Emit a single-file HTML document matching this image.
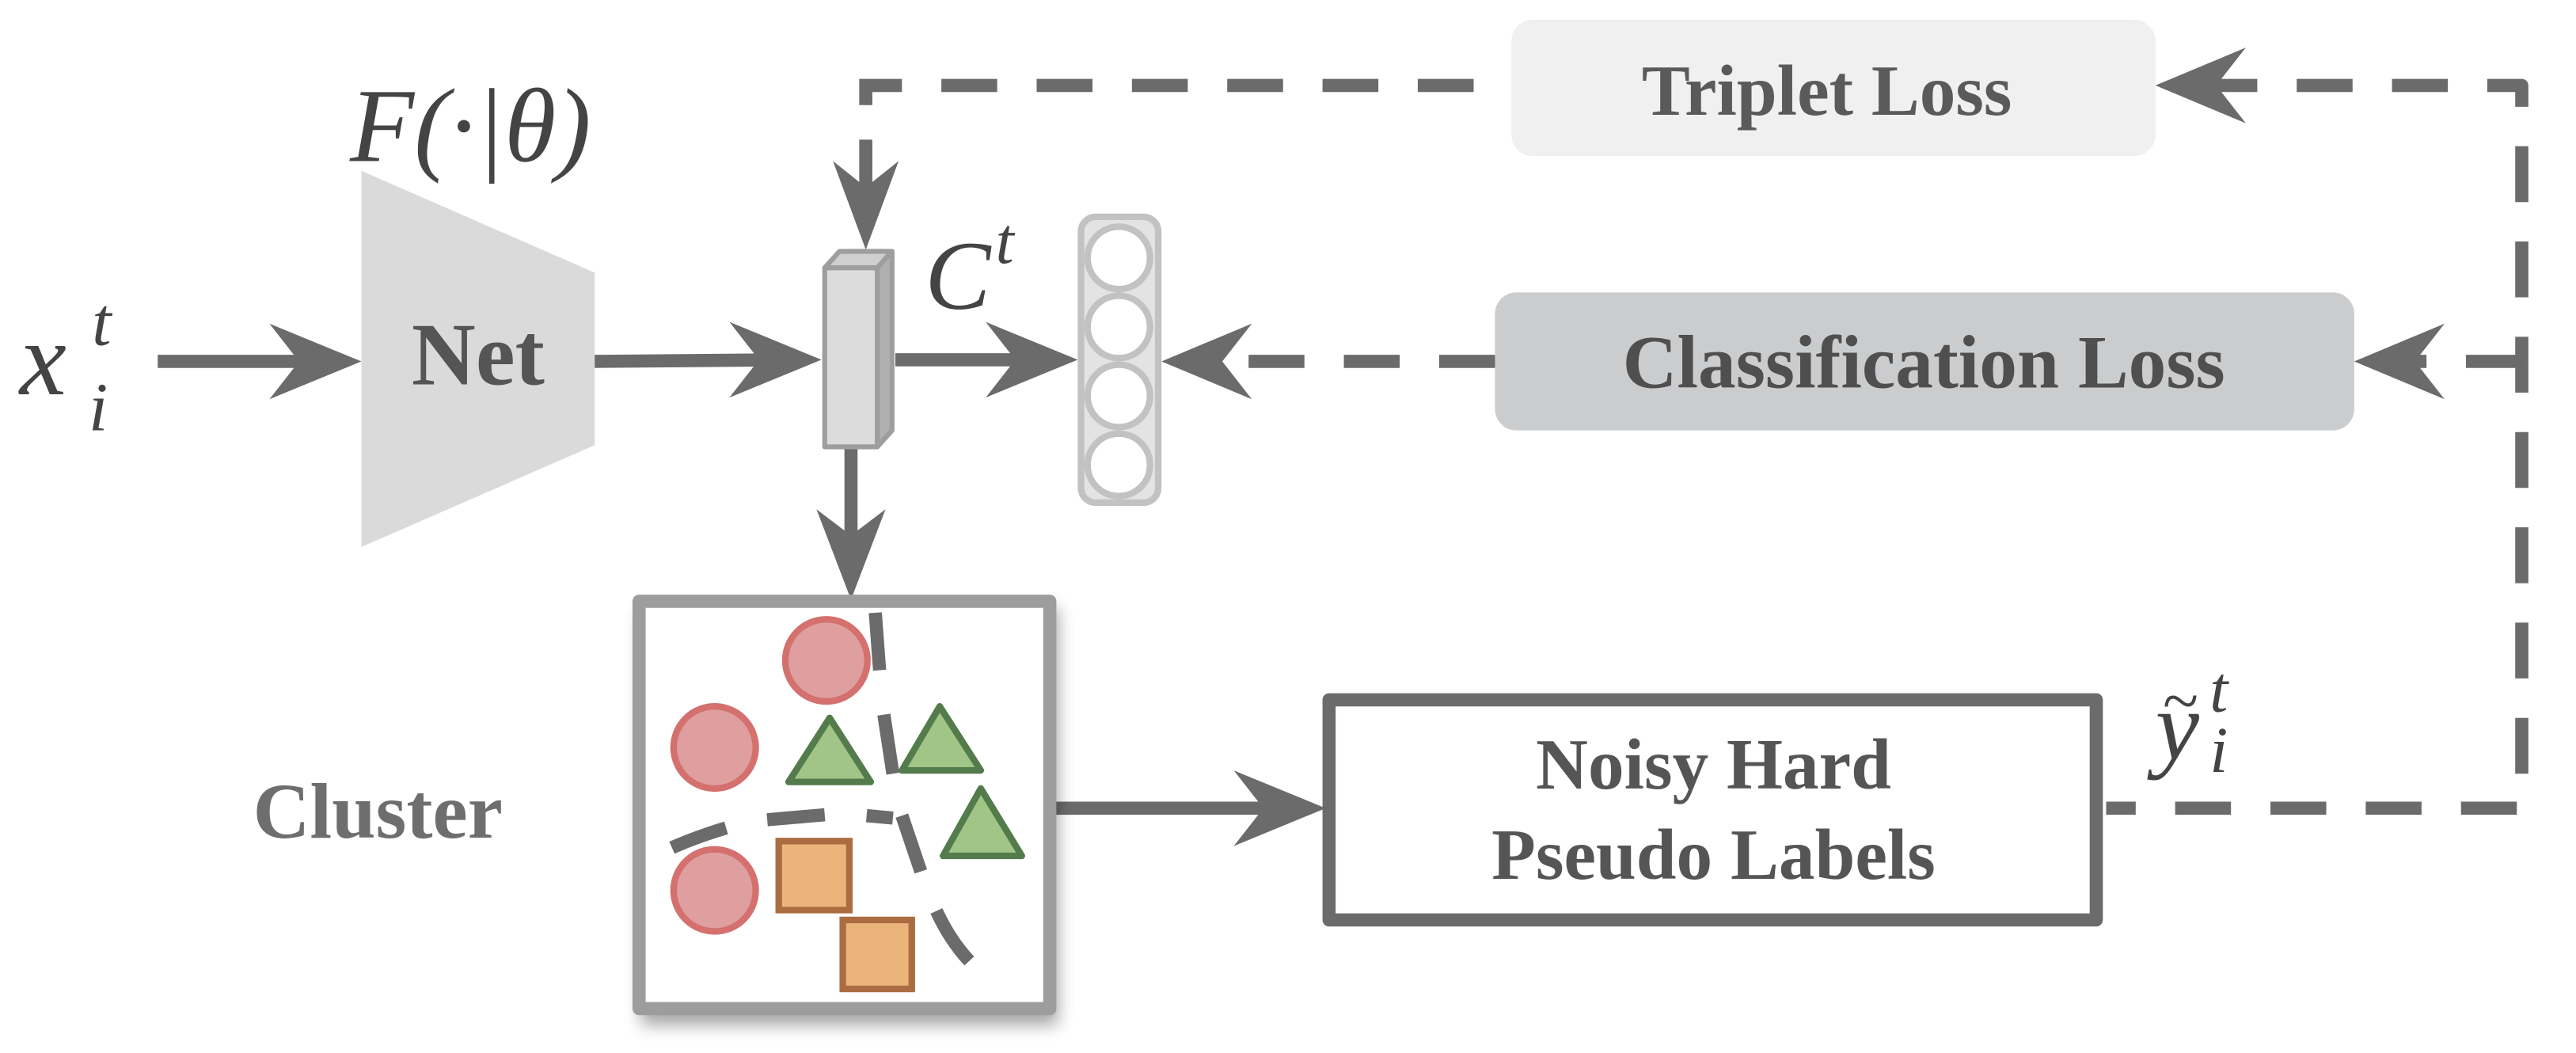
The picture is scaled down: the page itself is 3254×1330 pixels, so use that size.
<!DOCTYPE html>
<html><head><meta charset="utf-8"><style>
html,body{margin:0;padding:0;background:#fff;}
svg{display:block;}
</style></head><body>
<svg width="3254" height="1330" viewBox="0 0 1568 641" preserveAspectRatio="none" xmlns="http://www.w3.org/2000/svg">
<defs>
<filter id="sh" x="-20%" y="-20%" width="140%" height="140%"><feGaussianBlur stdDeviation="5"/></filter>
</defs>
<g font-family="'Liberation Serif', 'DejaVu Serif', serif" font-style="italic" fill="#444">
<text x="12" y="240" font-size="64">x</text>
<text x="56" y="210" font-size="42">t</text>
<text x="54" y="262" font-size="42">i</text>
<text x="213" y="98" font-size="64">F(·|θ)</text>
<text x="563" y="188" font-size="60">C</text>
<text x="606" y="160" font-size="40">t</text>
<text x="1312" y="462" font-size="60">y</text>
<text x="1316" y="440" font-size="40">~</text>
<text x="1345" y="433" font-size="40">t</text>
<text x="1345" y="470" font-size="40">i</text>
</g>
<polygon points="220,104 362,166 362,271 220,333" fill="#dadada"/>

<g stroke="#6b6b6b" stroke-width="8" fill="none">
<line x1="96" y1="220" x2="200" y2="220"/>
<line x1="362" y1="220" x2="480" y2="219"/>
<line x1="545" y1="219" x2="640" y2="219"/>
<line x1="518" y1="273" x2="518" y2="345"/>
<line x1="527" y1="85" x2="527" y2="135"/>
<line x1="640" y1="492" x2="790" y2="492"/>
<path d="M527 64 L527 52 L920 52" stroke-dasharray="34 24"/>
<path d="M1340 52 L1535 52 L1535 492 L1282 492" stroke-dasharray="34 24" stroke-linejoin="round"/>
<path d="M910 220 L745 220" stroke-dasharray="34 24"/>
<path d="M1535 220 L1450 220" stroke-dasharray="34 24"/>
</g>
<g fill="#6b6b6b">
<polygon points="220,220 164,197 182,220 164,243"/>
<polygon points="500,219 444,196 462,219 444,242"/>
<polygon points="656,219 600,196 618,219 600,242"/>
<polygon points="518,365 497,310 518,326 539,310"/>
<polygon points="527,152 507,98 527,114 547,98"/>
<polygon points="807,492 751,469 769,492 751,515"/>
<polygon points="707,220 762,197 744,220 762,243"/>
<polygon points="1433,220 1488,197 1470,220 1488,243"/>
<polygon points="1312,52 1367,29 1349,52 1367,75"/>
</g>
<g stroke="#9e9e9e" stroke-width="3" stroke-linejoin="round">
<polygon points="502,163 511,153 543,153 534,163" fill="#cfcfcf"/>
<polygon points="534,163 543,153 543,262 534,272" fill="#b0b0b0"/>
<rect x="502" y="163" width="32" height="109" fill="#dcdcdc"/>
</g>
<rect x="658" y="132" width="47" height="174" rx="9" fill="#e3e3e3" stroke="#c2c2c2" stroke-width="4"/>
<g fill="#fff" stroke="#c2c2c2" stroke-width="4">
<circle cx="681" cy="157" r="19"/>
<circle cx="681" cy="199" r="19"/>
<circle cx="681" cy="241" r="19"/>
<circle cx="681" cy="283" r="19"/>
</g>
<rect x="920" y="12" width="392" height="83" rx="13" fill="#f0f0f0"/>
<rect x="910" y="178" width="523" height="84" rx="13" fill="#cbcccd"/>
<rect x="390" y="370" width="254" height="254" fill="#000" opacity="0.35" filter="url(#sh)"/>
<rect x="389" y="366" width="250" height="248" fill="#fff" stroke="#9d9d9d" stroke-width="8" stroke-linejoin="round"/>
<g fill="none" stroke="#6b6b6b" stroke-width="8">
<line x1="532.8" y1="373" x2="535.4" y2="408"/>
<line x1="538" y1="435" x2="543.5" y2="471"/>
<path d="M409 516 Q425 509 442 504"/>
<line x1="467" y1="499" x2="502" y2="496"/>
<line x1="527.5" y1="496.5" x2="543.5" y2="498"/>
<line x1="549" y1="496.5" x2="560.5" y2="530.5"/>
<path d="M570 554.5 Q578 572 590 585"/>
</g>
<g fill="#df9f9f" stroke="#d4706e" stroke-width="4">
<circle cx="503" cy="402" r="25"/>
<circle cx="435" cy="455" r="25"/>
<circle cx="435" cy="542" r="25"/>
</g>
<g fill="#a1c487" stroke="#537b4b" stroke-width="4" stroke-linejoin="round">
<polygon points="505,437 480,476 530,476"/>
<polygon points="572,430 549,469 597,469"/>
<polygon points="597,480 574,521 622,521"/>
</g>
<g fill="#ebb47b" stroke="#ab6c42" stroke-width="4">
<rect x="474" y="512" width="43" height="42"/>
<rect x="513" y="560" width="42" height="42"/>
</g>
<rect x="809" y="426" width="467" height="134" fill="#fff" stroke="#6b6b6b" stroke-width="8" stroke-linejoin="round"/>
<g font-family="'Liberation Serif', 'DejaVu Serif', serif" font-weight="bold" text-anchor="middle">
<text x="291" y="234" font-size="54" fill="#555">Net</text>
<text x="1112" y="70" font-size="44" fill="#5a5a5a">Triplet Loss</text>
<text x="1171" y="236" font-size="46" fill="#4f4f4f">Classification Loss</text>
<text x="230" y="510" font-size="48" fill="#6e6e6e">Cluster</text>
<text x="1043" y="480" font-size="44" fill="#555">Noisy Hard</text>
<text x="1043" y="535" font-size="44" fill="#555">Pseudo Labels</text>
</g>
</svg>
</body></html>
